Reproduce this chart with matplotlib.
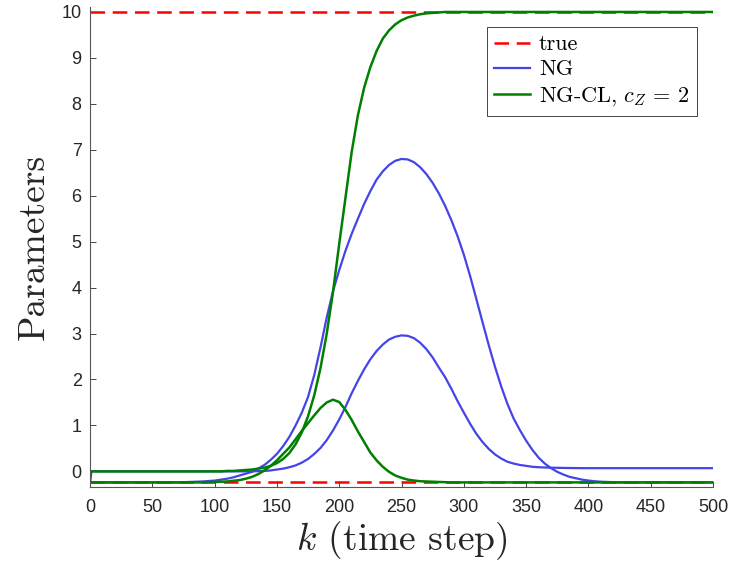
import numpy as np
import matplotlib
matplotlib.use("Agg")
import matplotlib.pyplot as plt

plt.rcParams['mathtext.fontset'] = 'cm'
plt.rcParams['lines.scale_dashes'] = False

# time steps
k_true = [0, 500]
k_ng = list(range(0, 71, 10)) + list(range(80, 431, 5)) + list(range(440, 501, 10))
k_cl = [0, 1] + list(range(10, 91, 10)) + list(range(100, 301, 5)) + list(range(310, 501, 10))

# true parameters
true_hi = [10, 10]
true_lo = [-0.24, -0.24]

# NG estimates (two parameters)
ng_1 = [-0.24] * 8 + [
    -0.23, -0.225, -0.22, -0.21,
    -0.2, -0.18, -0.16, -0.13, -0.09, -0.05, -0.01, 0.06, 0.14, 0.25, 0.38,
    0.55, 0.75, 1.0, 1.28, 1.62, 2.1, 2.7, 3.35, 3.92, 4.38,
    4.8, 5.17, 5.5, 5.82, 6.1, 6.35, 6.53, 6.67, 6.76, 6.8,
    6.79, 6.73, 6.62, 6.47, 6.28, 6.05, 5.78, 5.47, 5.12, 4.72,
    4.26, 3.76, 3.25, 2.75, 2.28, 1.85, 1.47, 1.15, 0.9, 0.67,
    0.47, 0.3, 0.17, 0.07, -0.01, -0.07, -0.12, -0.15, -0.18, -0.2,
    -0.215, -0.225, -0.23, -0.235, -0.24, -0.24] + [-0.24] * 7
ng_2 = [0] * 8 + [0] * 11 + [
    0.005, 0.01, 0.02, 0.04, 0.06, 0.09, 0.13, 0.19, 0.27, 0.38,
    0.51, 0.68, 0.89, 1.13, 1.4, 1.7, 1.97, 2.22, 2.44, 2.62,
    2.76, 2.87, 2.93, 2.96, 2.95, 2.9, 2.8, 2.66, 2.48, 2.26,
    2.05, 1.8, 1.53, 1.28, 1.04, 0.82, 0.64, 0.49, 0.37, 0.28,
    0.21, 0.17, 0.14, 0.12, 0.1, 0.09, 0.085, 0.08, 0.078, 0.075,
    0.073, 0.072] + [0.07] * 8 + [0.07] * 7

# NG-CL estimates, c_Z = 2
cl_1 = [-0.24, 0] + [0] * 9 + [
    0.0, 0.0, 0.01, 0.01, 0.02, 0.03, 0.04, 0.06, 0.08, 0.12, 0.18,
    0.27, 0.4, 0.59, 0.85, 1.2, 1.66, 2.25, 3.0, 3.9, 4.95,
    5.95, 6.95, 7.75, 8.35, 8.8, 9.15, 9.42, 9.6, 9.73, 9.82,
    9.88, 9.92, 9.95, 9.97, 9.98, 9.99, 10, 10, 10, 10] + [10] * 20
cl_2 = [-0.24, -0.24] + [-0.24] * 9 + [
    -0.23, -0.225, -0.22, -0.205, -0.19, -0.16, -0.12, -0.06, 0.02, 0.12, 0.24,
    0.38, 0.52, 0.7, 0.88, 1.05, 1.22, 1.38, 1.5, 1.56, 1.51,
    1.34, 1.12, 0.87, 0.64, 0.41, 0.24, 0.1, -0.01, -0.09, -0.14,
    -0.18, -0.2, -0.215, -0.22, -0.225, -0.23, -0.235, -0.24, -0.24, -0.24] + [-0.24] * 20

red = '#FF0000'
blue = '#4444E8'
green = '#008000'
axc = '#262626'

fig = plt.figure(figsize=(7.33, 5.67), dpi=100)
ax = fig.add_axes([0.1228, 0.1411, 0.8499, 0.8459])

ax.plot(k_true, true_hi, color=red, lw=1.8, dashes=(10.5, 5.5), label='true')
ax.plot(k_true, true_lo, color=red, lw=1.8, dashes=(10.5, 5.5))
ax.plot(k_ng, ng_1, color=blue, lw=1.6, label='NG')
ax.plot(k_ng, ng_2, color=blue, lw=1.6)
ax.plot(k_cl, cl_1, color=green, lw=1.8, label=r'NG-CL, $c_Z\,=\,2$')
ax.plot(k_cl, cl_2, color=green, lw=1.8)

ax.set_xlim(0, 500)
ax.set_ylim(-0.34, 10.1)
ax.set_xticks(np.arange(0, 501, 50))
ax.set_yticks(np.arange(0, 11, 1))

for s in ['top', 'right']:
    ax.spines[s].set_visible(False)
for s in ['left', 'bottom']:
    ax.spines[s].set_color('#555555')
    ax.spines[s].set_linewidth(0.8)

ax.tick_params(direction='in', length=4.5, width=0.6, color=axc, labelcolor=axc, labelsize=13)
ax.tick_params(axis='x', pad=9)
ax.tick_params(axis='y', pad=6)
for lab in ax.get_xticklabels() + ax.get_yticklabels():
    lab.set_family('Liberation Sans')

ax.set_xlabel(r'$k$ (time step)', family='cmr10', fontsize=27, color=axc, labelpad=2)
ax.set_ylabel('Parameters', family='cmr10', fontsize=27, color=axc, labelpad=8)

leg = ax.legend(loc='upper right', bbox_to_anchor=(0.974, 0.959), borderaxespad=0,
                prop={'family': 'cmr10', 'size': 16}, handlelength=1.6, handletextpad=0.4,
                labelspacing=0.25, fancybox=False, framealpha=1, borderpad=0.35)
leg.get_frame().set_edgecolor(axc)
leg.get_frame().set_linewidth(0.6)

fig.savefig('out.png', dpi=100)
